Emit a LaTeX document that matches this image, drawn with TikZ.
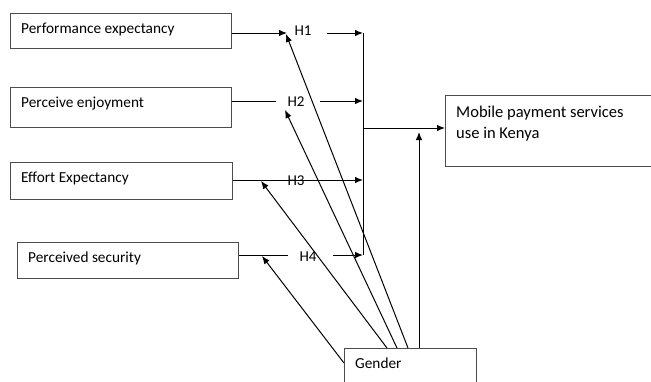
\documentclass[tikz,border=0pt]{standalone}
\usepackage{fontspec}
\setmainfont{Carlito}
\usetikzlibrary{arrows.meta}
\begin{document}
\begin{tikzpicture}[x=1pt,y=-1pt,
  box/.style={draw=black!70,line width=1.1pt,rectangle,inner sep=0pt,anchor=north west},
  txt/.style={anchor=base west,inner sep=0pt,font=\fontsize{15.3}{21}\selectfont},
  bigtxt/.style={txt,font=\fontsize{16.5}{21}\selectfont},
  hlab/.style={inner sep=0pt,font=\fontsize{15}{18}\selectfont},
  ln/.style={line width=1pt,black},
  arr/.style={ln,-{Latex[length=8pt,width=6.5pt]}}]
\useasboundingbox (0,0) rectangle (651,381);
\clip (0,0) rectangle (651,381);
% boxes
\node[box,minimum width=221pt,minimum height=35pt] (pe) at (10,13) {};
\node[box,minimum width=221pt,minimum height=40pt] (en) at (10,87) {};
\node[box,minimum width=222pt,minimum height=37pt] (ee) at (10,162) {};
\node[box,minimum width=221pt,minimum height=36pt] (ps) at (17,242) {};
\node[box,minimum width=220pt,minimum height=71pt] (mp) at (445,95) {};
\node[box,minimum width=132pt,minimum height=50pt] (ge) at (344,348) {};
% texts
\node[txt] (pe-t) at (21,33) {Performance expectancy};
\node[txt] (en-t) at (21,107) {Perceive enjoyment};
\node[txt] (ee-t) at (21,182) {Effort Expectancy};
\node[txt] (ps-t) at (28,262) {Perceived security};
\node[bigtxt] (mp-t) at (456,117) {Mobile payment services};
\node[bigtxt] (mp-t2) at (456,138) {use in Kenya};
\node[txt] (ge-t) at (355,368) {Gender};
% H labels
\node[hlab] (h1) at (303,31) {H1};
\node[hlab] (h2) at (296,102) {H2};
\node[hlab] (h3) at (296,181) {H3};
\node[hlab] (h4) at (308,257) {H4};
% coordinates
\coordinate (a1) at (287,33);
\coordinate (a2) at (276,101);
\coordinate (a4) at (288,255);
\coordinate (b1) at (327,33);
\coordinate (b2) at (320,101);
\coordinate (b4) at (333,255);
\coordinate (v1) at (363,33);
\coordinate (v2) at (363,101);
\coordinate (v3) at (363,180);
\coordinate (v4) at (363,255);
\coordinate (vm) at (363,128);
\coordinate (m) at (445,128);
\coordinate (gv) at (419,348);
\coordinate (gt) at (419,132);
\coordinate (t1) at (286,34);
\coordinate (t2) at (285,110);
\coordinate (t3) at (261,181);
\coordinate (t4) at (262,256);
\coordinate (g1) at (408,348);
\coordinate (g2) at (397,348);
\coordinate (g3) at (387,348);
\coordinate (g4) at (344,363);
% row connectors
\draw[arr] (pe.east |- a1) -- (a1);
\draw[arr] (b1) -- (v1);
\draw[ln] (en.east |- a2) -- (a2);
\draw[arr] (b2) -- (v2);
\draw[arr] (ee.east |- v3) -- (v3);
\draw[ln] (ps.east |- a4) -- (a4);
\draw[arr] (b4) -- (v4);
% vertical bar and output
\draw[ln] (v1) -- (v4);
\draw[arr] (vm) -- (m);
\draw[arr] (gv) -- (gt);
% moderator arrows
\draw[arr] (g1) -- (t1);
\draw[arr] (g2) -- (t2);
\draw[arr] (g3) -- (t3);
\draw[arr] (g4) -- (t4);
\end{tikzpicture}
\end{document}
